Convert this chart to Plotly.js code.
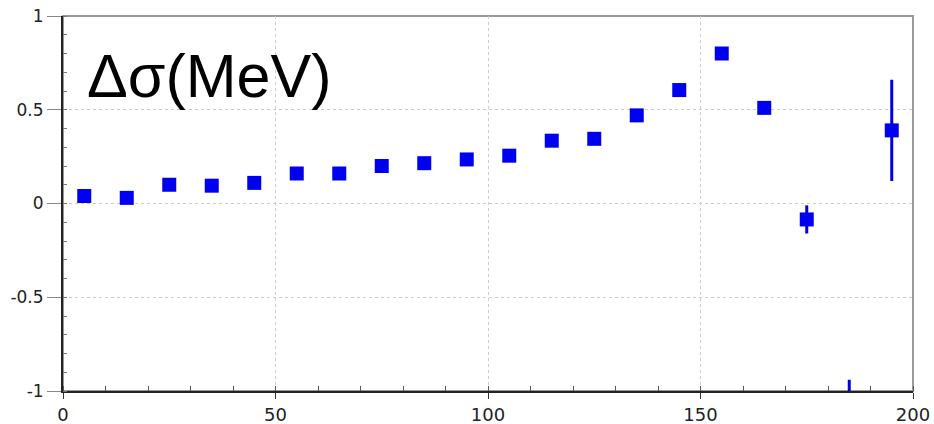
<!DOCTYPE html>
<html>
<head>
<meta charset="utf-8">
<script src="https://cdn.plot.ly/plotly-3.0.1.min.js"></script>
<style>html,body{margin:0;padding:0;background:#fff;}#chart{width:934px;height:424px;}</style>
</head>
<body>
<div id="chart"></div>
<script>
// Data
const xValues = [5, 15, 25, 35, 45, 55, 65, 75, 85, 95, 105, 115, 125, 135, 145, 155, 165, 175, 185, 195];
const deltaSigma = [0.04, 0.03, 0.10, 0.095, 0.11, 0.16, 0.16, 0.20, 0.215, 0.235, 0.255, 0.335, 0.345, 0.47, 0.605, 0.80, 0.51, -0.085, -1.2, 0.39];
const errors = [0.02, 0.02, 0.02, 0.02, 0.02, 0.02, 0.02, 0.02, 0.02, 0.02, 0.02, 0.02, 0.02, 0.03, 0.03, 0.03, 0.03, 0.075, 0.26, 0.27];
const xTickVals = [0, 50, 100, 150, 200];
const yTickVals = [-1, -0.5, 0, 0.5, 1];
const yTickText = ['-1', '-0.5', '0', '0.5', '1'];
const titleText = 'Δσ(MeV)';

const trace = {
  x: xValues,
  y: deltaSigma,
  type: 'scatter',
  mode: 'markers',
  marker: {symbol: 'square', size: 14, color: '#0000f0', line: {width: 0}},
  error_y: {type: 'data', array: errors, visible: true, color: '#0000e0', thickness: 3, width: 0},
  cliponaxis: true,
  showlegend: false
};

const tickFont = {family: 'DejaVu Sans, Verdana, sans-serif', size: 17, color: '#222'};

const layout = {
  width: 934, height: 424,
  margin: {l: 63, r: 21, t: 16, b: 33},
  paper_bgcolor: '#fff',
  plot_bgcolor: '#fff',
  showlegend: false,
  xaxis: {
    range: [0, 200],
    tickvals: xTickVals,
    ticks: 'outside', ticklen: 6, tickcolor: '#333', tickwidth: 1,
    showline: true, linecolor: '#222', linewidth: 2,
    showgrid: true, gridcolor: '#cccccc', griddash: 'dot', gridwidth: 1,
    zeroline: false,
    tickfont: Object.assign({}, tickFont, {size: 18}),
    minor: {dtick: 10, ticks: 'inside', ticklen: 5, tickcolor: '#555', showgrid: false}
  },
  yaxis: {
    range: [-1, 1],
    tickvals: yTickVals, ticktext: yTickText,
    ticks: 'outside', ticklen: 14, tickcolor: '#888', tickwidth: 1,
    showline: true, linecolor: '#222', linewidth: 2,
    showgrid: true, gridcolor: '#cccccc', griddash: 'dot', gridwidth: 1,
    zeroline: false,
    tickfont: tickFont,
    ticklabelstandoff: 0,
    minor: {dtick: 0.1, ticks: 'inside', ticklen: 4, tickcolor: '#777', showgrid: false}
  },
  shapes: [{
    type: 'rect', xref: 'paper', yref: 'paper', x0: 0, x1: 1, y0: 0, y1: 1,
    line: {color: '#999', width: 2}, layer: 'below'
  }],
  annotations: [{
    text: titleText, xref: 'paper', yref: 'paper',
    x: 0.026, y: 0.84, xanchor: 'left', yanchor: 'middle',
    showarrow: false,
    font: {family: 'Comic Sans MS, Liberation Sans, sans-serif', size: 61, color: '#000'}
  }]
};

Plotly.newPlot('chart', [trace], layout, {displayModeBar: false, staticPlot: true});
</script>
</body>
</html>
